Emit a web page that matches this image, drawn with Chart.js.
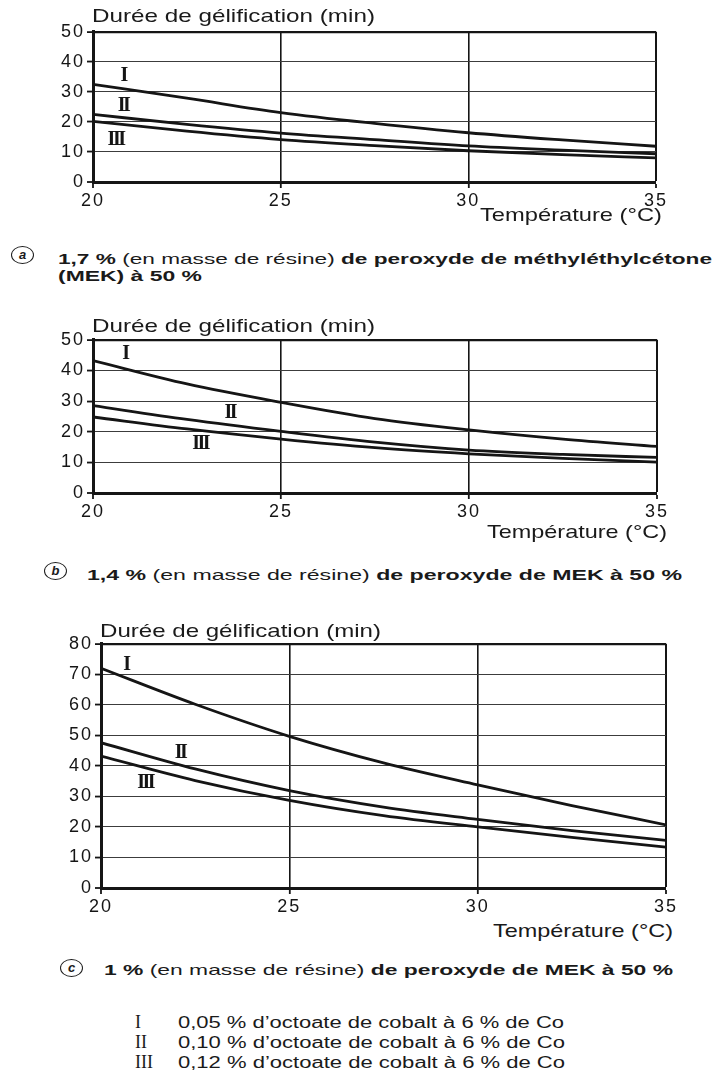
<!DOCTYPE html>
<html lang="fr">
<head>
<meta charset="utf-8">
<title>Durée de gélification en fonction de la température</title>
<script src="https://cdn.jsdelivr.net/npm/chart.js@4.4.1/dist/chart.umd.min.js"></script>
<style>
  html, body { margin: 0; padding: 0; background: #fff; }
  body { width: 716px; height: 1077px; position: relative; overflow: hidden;
         font-family: "Liberation Sans", Arial, sans-serif; color: #1a1a1a; }
  canvas { position: absolute; left: 0; }
  .t { position: absolute; white-space: nowrap; line-height: 1; transform-origin: 0 0; }
  .ax { font-size: 18.5px; }
  .cap { font-size: 15px; font-weight: 400; }
  .cap b { font-weight: 700; }
  .leg { font-size: 16px; }
  .rn { position: absolute; font-family: "Liberation Serif", serif; font-size: 18px; line-height: 1; }
  .circ { position: absolute; box-sizing: border-box; border: 1.6px solid #1a1a1a; border-radius: 50%;
          width: 23px; height: 18px; font-size: 13px; font-weight: 700; font-style: italic;
          text-align: center; line-height: 15px; }
</style>
</head>
<body>

<canvas id="chartA" width="716" height="193" style="top:19px"></canvas>
<canvas id="chartB" width="716" height="196" style="top:327px"></canvas>
<canvas id="chartC" width="716" height="287" style="top:631px"></canvas>

<!-- panel a -->
<div class="t ax" style="left:92px;top:7px" data-w="283">Durée de gélification (min)</div>
<div class="t ax" style="left:480px;top:206px" data-w="182">Température (°C)</div>
<div class="circ" style="left:11px;top:246px">a</div>
<div class="t cap" style="left:58px;top:251px" data-w="654"><b>1,7 %</b> (en masse de résine) <b>de peroxyde de méthyléthylcétone</b></div>
<div class="t cap" style="left:58px;top:268px" data-w="144"><b>(MEK) à 50 %</b></div>

<!-- panel b -->
<div class="t ax" style="left:92px;top:317px" data-w="283">Durée de gélification (min)</div>
<div class="t ax" style="left:487px;top:523px" data-w="180">Température (°C)</div>
<div class="circ" style="left:44px;top:562px">b</div>
<div class="t cap" style="left:87px;top:567px" data-w="595"><b>1,4 %</b> (en masse de résine) <b>de peroxyde de MEK à 50 %</b></div>

<!-- panel c -->
<div class="t ax" style="left:100px;top:622px" data-w="281">Durée de gélification (min)</div>
<div class="t ax" style="left:493px;top:922px" data-w="180">Température (°C)</div>
<div class="circ" style="left:60px;top:959px">c</div>
<div class="t cap" style="left:104px;top:962px" data-w="569"><b>1 %</b> (en masse de résine) <b>de peroxyde de MEK à 50 %</b></div>

<!-- key -->
<div class="rn" style="left:135px;top:1013px">I</div>
<div class="rn" style="left:135px;top:1033px">II</div>
<div class="rn" style="left:135px;top:1053px">III</div>
<div class="t leg" style="left:178px;top:1015px" data-w="386">0,05 % d’octoate de cobalt à 6 % de Co</div>
<div class="t leg" style="left:178px;top:1035px" data-w="387">0,10 % d’octoate de cobalt à 6 % de Co</div>
<div class="t leg" style="left:178px;top:1055px" data-w="387">0,12 % d’octoate de cobalt à 6 % de Co</div>

<script>
// Température (°C)
const temperatures = [20, 22.5, 25, 27.5, 30, 32.5, 35];
const xTickValues = [20, 25, 30, 35];
const curveNames = ['I', 'II', 'III'];

// Durée de gélification (min) — 1,7 % de peroxyde de MEK
const gelA_I   = [32.5, 27.9, 23.1, 19.5, 16.4, 14.0, 11.9];
const gelA_II  = [22.5, 19.2, 16.3, 14.1, 12.0, 10.6, 9.4];
const gelA_III = [20.2, 16.9, 14.1, 12.1, 10.4, 9.1, 8.0];

// 1,4 % de peroxyde de MEK
const gelB_I   = [43.2, 35.6, 29.6, 24.3, 20.6, 17.6, 15.2];
const gelB_II  = [28.5, 24.0, 20.1, 16.6, 14.0, 12.6, 11.6];
const gelB_III = [24.8, 20.9, 17.6, 14.8, 12.8, 11.3, 10.1];

// 1 % de peroxyde de MEK
const gelC_I   = [72.0, 60.2, 49.7, 41.0, 33.8, 27.0, 20.7];
const gelC_II  = [47.6, 39.0, 31.9, 26.5, 22.5, 18.8, 15.6];
const gelC_III = [43.2, 35.2, 28.7, 23.7, 20.0, 16.6, 13.4];

const yMaxA = 50, yMaxB = 50, yMaxC = 80;
const yStep = 10;

// plot-area frames and curve-name anchors (in data units)
const panels = [
  { id: 'chartA', series: [gelA_I, gelA_II, gelA_III], yMax: yMaxA,
    area: { left: 93, right: 656, top: 31, bottom: 182 },
    tags: [[20.8, 35.4], [20.8, 25.5], [20.6, 13.9]] },
  { id: 'chartB', series: [gelB_I, gelB_II, gelB_III], yMax: yMaxB,
    area: { left: 93, right: 657, top: 339, bottom: 493 },
    tags: [[20.85, 45.5], [23.64, 26.3], [22.85, 15.9]] },
  { id: 'chartC', series: [gelC_I, gelC_II, gelC_III], yMax: yMaxC,
    area: { left: 101, right: 666, top: 643, bottom: 888 },
    tags: [[20.66, 73.2], [22.1, 44.4], [21.17, 34.3]] }
];

const INK = '#151515';
const PAD_TOP = 12, X_AXIS_H = 30;

// wider tick digits
const spacingPlugin = {
  id: 'spacing',
  beforeDraw(chart) { chart.ctx.letterSpacing = '2px'; }
};

// roman numerals beside each curve
const curveTagPlugin = {
  id: 'curveTags',
  afterDatasetsDraw(chart, args, opts) {
    const { ctx, scales: { x, y } } = chart;
    ctx.save();
    ctx.letterSpacing = '-2.5px';
    ctx.font = 'bold 20px "Liberation Serif", serif';
    ctx.fillStyle = INK;
    ctx.textAlign = 'center';
    ctx.textBaseline = 'middle';
    opts.tags.forEach((p, i) => {
      ctx.fillText(curveNames[i], x.getPixelForValue(p[0]), y.getPixelForValue(p[1]));
    });
    ctx.restore();
  }
};

panels.forEach(p => {
  const a = p.area;
  new Chart(document.getElementById(p.id), {
    type: 'line',
    data: {
      datasets: p.series.map((vals, i) => ({
        label: curveNames[i],
        data: temperatures.map((t, k) => ({ x: t, y: vals[k] })),
        borderColor: INK,
        borderWidth: 2.8,
        pointRadius: 0,
        fill: false,
        cubicInterpolationMode: 'monotone'
      }))
    },
    options: {
      responsive: false,
      animation: false,
      devicePixelRatio: 1,
      layout: { padding: { top: PAD_TOP, left: 0, right: 716 - a.right, bottom: 0 } },
      plugins: {
        legend: { display: false },
        tooltip: { enabled: false },
        curveTags: { tags: p.tags }
      },
      scales: {
        x: {
          type: 'linear',
          min: 20, max: 35,
          afterFit(s) { s.height = X_AXIS_H; },
          afterBuildTicks(s) { s.ticks = xTickValues.map(v => ({ value: v })); },
          ticks: {
            autoSkip: false, maxRotation: 0, padding: 2,
            color: INK,
            font: { family: '"Liberation Sans", Arial, sans-serif', size: 18 }
          },
          grid: {
            color: INK,
            lineWidth: c => (c.tick && c.tick.value === 20) ? 0 : (c.tick && c.tick.value === 35 ? 2 : 1.6),
            tickLength: 6,
            tickColor: INK,
            tickWidth: 1.8
          },
          border: { display: true, color: INK, width: 3 }
        },
        y: {
          min: 0, max: p.yMax,
          afterFit(s) { s.width = a.left; },
          ticks: {
            stepSize: yStep, padding: 2,
            color: INK,
            font: { family: '"Liberation Sans", Arial, sans-serif', size: 18 }
          },
          grid: {
            color: c => (c.tick && c.tick.value === p.yMax) ? INK : '#3c3c3c',
            lineWidth: c => (c.tick && c.tick.value === 0) ? 0 : (c.tick && c.tick.value === p.yMax ? 2.2 : 1.1),
            tickLength: 6,
            tickColor: INK,
            tickWidth: 1.8
          },
          border: { display: true, color: INK, width: 3 }
        }
      }
    },
    plugins: [spacingPlugin, curveTagPlugin]
  });
});

// stretch text blocks to their set widths
document.querySelectorAll('[data-w]').forEach(el => {
  const natural = el.getBoundingClientRect().width;
  el.style.transform = 'scaleX(' + (parseFloat(el.dataset.w) / natural) + ')';
});
</script>
</body>
</html>
